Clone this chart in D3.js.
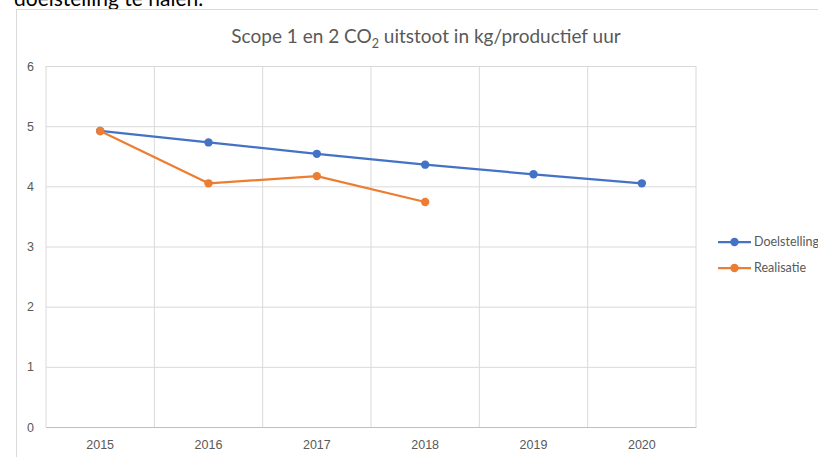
<!DOCTYPE html>
<html>
<head>
<meta charset="utf-8">
<script src="https://cdn.jsdelivr.net/npm/d3@7"></script>
<style>
  body { margin: 0; background: #fff; }
  svg { display: block; font-family: Lato, "Open Sans", sans-serif; }
</style>
</head>
<body>
<div id="chart"></div>
<script>
// Chart data
const years = ['2015', '2016', '2017', '2018', '2019', '2020']
const doelstelling = [4.92, 4.73, 4.54, 4.36, 4.20, 4.05]
const realisatie = [4.92, 4.05, 4.17, 3.74]
const yTicks = [0, 1, 2, 3, 4, 5, 6]

const width = 818,
height = 457

const plot = { left: 46, right: 696, top: 66, bottom: 427 }

let svg = d3.select('#chart')
.append('svg')
.attr('width', width)
.attr('height', height)

// text of the page above the chart (cut off in the picture too)
svg.append('text')
.attr('x', 14)
.attr('y', 6)
.style('font-size', '21px')
.style('fill', '#000')
.text('doelstelling te halen.')

// chart frame
svg.append('rect')
.attr('x', 16.5)
.attr('y', 9.5)
.attr('width', 820)
.attr('height', 460)
.style('fill', '#fff')
.style('stroke', '#d9d9d9')

// title
let title = svg.append('text')
.attr('x', 426)
.attr('y', 43)
.attr('text-anchor', 'middle')
.style('font-size', '19px')
.style('fill', '#595959')
title.append('tspan').text('Scope 1 en 2 CO')
title.append('tspan').attr('dy', 5).style('font-size', '12.5px').text('2')
title.append('tspan').attr('dy', -5).text(' uitstoot in kg/productief uur')

const xScale = d3.scaleBand()
.domain(years)
.range([plot.left, plot.right])
.padding(0)

const yScale = d3.scaleLinear()
.domain([0, 6])
.range([plot.bottom, plot.top])

const cx = (d) => xScale(d) + xScale.bandwidth() / 2

// horizontal gridlines
const yAxis = d3.axisLeft(yScale)
.tickValues(yTicks)
.tickFormat(d3.format('d'))
.tickSize(-(plot.right - plot.left))
.tickPadding(12)

let gy = svg.append('g')
.attr('transform', `translate(${plot.left},0)`)
.call(yAxis)
gy.select('.domain').remove()
gy.selectAll('line').style('stroke', '#d9d9d9').style('stroke-width', 1)
gy.selectAll('text').style('font-size', '12.5px').style('fill', '#595959')

// vertical gridlines at category boundaries
const bounds = years.map(d => xScale(d)).concat([plot.right])
svg.append('g')
.selectAll('line')
.data(bounds)
.enter()
.append('line')
.attr('x1', d => d)
.attr('x2', d => d)
.attr('y1', plot.top)
.attr('y2', plot.bottom)
.style('stroke', '#d9d9d9')

// x axis
const xAxis = d3.axisBottom(xScale).tickSize(0).tickPadding(13)
let gx = svg.append('g')
.attr('transform', `translate(0,${plot.bottom})`)
.call(xAxis)
gx.select('.domain').style('stroke', '#bfbfbf')
gx.selectAll('text').style('font-size', '12.5px').style('fill', '#595959')

// series
const series = [
  { name: 'Doelstelling', values: doelstelling, color: '#4472c4' },
  { name: 'Realisatie', values: realisatie, color: '#ed7d31' }
]

const line = d3.line()
.x((d, i) => cx(years[i]))
.y(d => yScale(d))

series.forEach(s => {
  svg.append('path')
  .datum(s.values)
  .attr('d', line)
  .style('fill', 'none')
  .style('stroke', s.color)
  .style('stroke-width', 2.25)
  .style('stroke-linejoin', 'round')

  svg.append('g')
  .selectAll('circle')
  .data(s.values)
  .enter()
  .append('circle')
  .attr('cx', (d, i) => cx(years[i]))
  .attr('cy', d => yScale(d))
  .attr('r', 4.2)
  .style('fill', s.color)
})

// legend
let legend = svg.append('g')
.selectAll('g')
.data(series)
.enter()
.append('g')
.attr('transform', (d, i) => `translate(718,${242 + i * 26})`)

legend.append('line')
.attr('x1', 0)
.attr('x2', 33)
.style('stroke', d => d.color)
.style('stroke-width', 2.25)

legend.append('circle')
.attr('cx', 16.5)
.attr('r', 4.2)
.style('fill', d => d.color)

legend.append('text')
.attr('x', 36)
.attr('dy', '0.35em')
.style('font-size', '12.5px')
.style('fill', '#595959')
.text(d => d.name)
</script>
</body>
</html>
